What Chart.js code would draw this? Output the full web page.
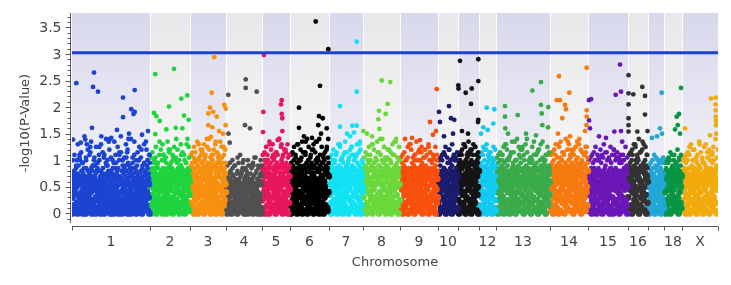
<!DOCTYPE html>
<html>
<head>
<meta charset="utf-8">
<script src="https://cdn.jsdelivr.net/npm/chart.js@4.4.1/dist/chart.umd.min.js"></script>
<style>
  body { margin: 0; background: #fff; }
  #wrap { width: 731px; height: 285px; }
</style>
</head>
<body>
<div id="wrap"><canvas id="chart" width="731" height="285"></canvas></div>
<script>
const chromosomes = ['1','2','3','4','5','6','7','8','9','10','11','12','13','14','15','16','17','18','X'];
const tickLabels  = ['1','2','3','4','5','6','7','8','9','10','','12','13','14','15','16','','18','X'];
// SNP count per chromosome (x-axis units)
const chromSizes  = [78,40,36,36,28,39,34,37,38,20,21,17,54,38,40,20,16,18,36];
const chromColors = ['#1c44d2','#1fd43e','#f7900e','#505050','#e8175d','#000000','#11e2f4','#6ad83a',
                     '#f8500c','#1c1c6e','#141414','#12c9f2','#3aab4a','#f77a10','#6b17b8','#333333',
                     '#22a7d8','#0a9545','#f2aa0c'];
// the solid low band of each chromosome (-log10 p)
const denseTop = [0.65,0.7,0.8,0.6,0.8,0.8,0.75,0.75,0.75,0.7,0.85,0.8,0.75,0.8,0.7,0.8,0.6,0.7,0.7];

// bulk of the SNPs, in order along each chromosome; each char is a step of 0.05 in -log10 p
const levels = '0123456789abcdefghijklmnopqrstuvwxyz';
const bulk = [
  '06b3928d1fa4c07e2b5k1d38g60a4c27b0h593d16ac2p84e0b5391dia06g2c58bm14903d7a2e6b0c48j15d3f9r27a0b6c2f40d81h93a5e7b06cn2d48105gb93ai7c2l6d04s81b5903e7ahc26d41b08f5a3k9c17d2g06b4e8a25c3o8e1d6b0j',
  '3a0e72c5h19d4b06ej28c1a5g3e90m6b2d8f40c7a1e5o39bh2d06c4k81e59a3f2b0d7i4c18e6a20g5bq3d9e17c',
  '4b1g73e9c0k5a2f8d06h3c9b1go47ea0d52i8f3c6b1e9g04m7d2a5c8h03fb6e1j94g2a0p7d3c5fb8',
  '2905b63a18c04e7291b583a0c6f4b2917g58a03c6b2e04981a5c3720i6b91a48d03c57b20e',
  '5c1g82a0e6k93b7f04dh2a6c1m9e38g0b5d7i24c9a1fq6e03b8d52g1hc70a4e9',
  '3d0b8g51e7a29c4h06f1b8d3k2g70c5ae19n4b6d0g38c2i5a71f9e04bd6r2c8a5gh037db1e4j90c6a3g7f21l8e',
  '2b7e04c9f1a5dh38b0e61c9f4k2a7d05gb3e8c1i6a0d9f52bm4e17c3h80ad6b2fq59c03e8a',
  '6c1f93a0e4b8dg27c5h10a9e36fb4k2d7c0i85e1b3fa6p92d0c4g17e58a3j0b6d2f94c1s7a3e0hb5',
  '1e5b90c3f7a2dg48e06b9c1h5f3a7d0k8b26e4c91fa3i7d05eb8c2g49a6f0d3n1e7b5c82ha0f94d6',
  '4b0e8c2a6g1d9h53e0b7c2f4a8j16d0e93b5k7c1a8e2',
  '5g0c9a3h1e7b4i82d0f6c1h9ma5g3e0b8d2j6f4c9h1e7a0g',
  '3e9a0g6c1f8b4h2d07e5a1gk9c3f60d8b2e5a1',
  '2d8a0f5c1e7b3h96e04ca1fk2d8b5g0e39c7a1i4d6b0f28e5c3a9go1b7d4e0c6f29a5h1b8d3e70cj4a6f1b9e2mc5d08g3a7e1b4f9c2i6d0a8e5b3f7c',
  '4f1c9g0a6e3b8h2d5g07c1e9ka4f6b0g3d8i2c5e7a1go9b4f0d6h2c8e3a5g1b7j0f9d42e6c1n8a3g',
  '1c7e3a9f05b2dh6e84c0a5f1k93b7e2d0g6c4a8i1e5b3f7d09c2hb6e0a4m9d1f5c3e8b0g7a2j6d4e1c9b5f3h0a',
  '6d1g9b3e0h8c2f5a7k4g1e9d0h3c6b2g8i5a1f7d0e4c',
  '3a07c52e91b4f6c08h2a5k1c79b3g0a6e4b2',
  '2c8e05a3f91d6b0g4e7c9h2a5e1b3i6d0f8c4a2e',
  '5a1e9c3g07b2d6h4e0a8c1f5k9b3e27d0g6a4i1c8e3b5f0d2j9a6c1h4e7b0d5g3c8m2a6e1f4b9d0o'
];

// the cloud just above the band, same encoding
const fringe = [
  'efgehkfimegjfhelqgefnhgikefjhgpegfhlefikgesgfhjemfghketgifhegnjfhgelfrhgiekfgohejfgihfm',
  'fghfjglfiherfgkhmfgjhfoigfhklgfsjhgfimhgfkgjfhpg',
  'hijhlhnjhiqkhmjhiklhsjhoihjkmhirjhlkhipjhmhj',
  'defdgfheidfgjdefhkdegfidfhdelfgdhefi',
  'hihkjhmhiqjhlhkihnjhsihkjmhiojhlhi',
  'hjhikhmhjqhiklhnihrjhkihmjhoihkjlhsihjhmkhiphj',
  'ghigkhjgmhgiqghkjgnhigjlghpigkhgmjgirhgj',
  'ghighkjgmhiqgjhkgnigshkgjhlgiohgkjgmhrigjhgk',
  'ghjgihkglhgqhjgimhgkhognjhglihgpkhgjmhgikg',
  'fgifkghmfgjfohgilfghkf',
  'ijkimjiqjkilnjiokjmijpikjl',
  'hijhmhkiohjlhnihjkhi',
  'ghjgkhimgjhqgiklgnhjgrhkgimhjgphkgisghjlgkhmigjhogkihrgjkhmgih',
  'hijhkhmihqjhlikhnhjihrkhmijhohikjlhsihkjhmihpj',
  'fgfhgjfkgfmhfgjflghfnfgkhjfgofhlgfjkfgmhfgif',
  'hijhkmhiqhjlkhnihrjhkimh',
  'defgdhfeidgkefhdjf',
  'fghfjgkfhifmgjfhkgif',
  'fghfjgkfmhfiogfhkjfgqhfljfgihnfgkhfjpgfhig'
];

// sparser points higher up, same encoding
const haze = [
  'kmiqlnjtkomrilpjkqnmsiolkrjpmnklqoisjmknpliqrkm',
  'lnkpjmoqklrnjmplokqnmjsl',
  'mnpkrlonqmpslkoqnmrlpo',
  'ijkilmjhkijlik',
  'mnpkroqlnmsplonqm',
  'mnplqkornmsploqnrkmplnos',
  'lmoknqplmrnkopmlqnok',
  'lnmpkqolrnmspklonqmrlp',
  'lmnkpqolmrnkplomqnklpm',
  'klmnplokqmln',
  'mnoqpmrnoqpmn',
  'mnpoqmnlpo',
  'lmnkpqolmrnksplomqnklprmnoqlkmpn',
  'mnoqlprnmsoqlnmprqonmpl',
  'klmnpklomqnklpmoknlmrkpl',
  'mnoqpmsnoqpm',
  'ijkmlijkl',
  'jklnmkjolm',
  'klmnpqkolmrnkpqlomnksl'
];

// stronger signals: [position within chromosome, -log10 p]
const peaks = [
  [[4.3,2.45],[22,2.65],[21,2.38],[26,2.29],[62.7,2.32],[51,2.18],[59.3,1.96],[62.7,1.91],[61.5,1.87],[51,1.81],[20,1.61],[45,1.57],[1,1.39],[8.7,1.33],[13.3,1.39],[29.3,1.45],[39.3,1.42],[57,1.5],[70,1.48],[76,1.55]],
  [[5.3,2.62],[24,2.72],[31.3,2.16],[37.3,2.22],[19,2.01],[4,1.89],[34,1.84],[6.3,1.83],[9.7,1.74],[38.7,1.76],[16.3,1.58],[25.7,1.61],[32.3,1.6],[5.3,1.49]],
  [[24.3,2.94],[21.7,2.27],[20,1.99],[34.3,2.04],[35.7,1.97],[18.3,1.88],[23.3,1.91],[26.7,1.82],[18.3,1.66],[22.3,1.62],[35.7,1.66],[21,1.44],[29,1.55],[33,1.5]],
  [[19.7,2.52],[19.7,2.36],[30.7,2.29],[2.3,2.23],[19,1.66],[24,1.6],[3.7,1.33],[2.5,1.5]],
  [[2,2.98],[19.7,2.13],[19,2.05],[19.7,1.87],[20.3,1.79],[1.3,1.91],[1,1.53],[20.3,1.55],[15.7,1.38]],
  [[25.7,3.61],[38.3,3.09],[30,2.4],[9,1.99],[9,1.61],[29,1.83],[32.7,1.79],[28.3,1.66],[36.7,1.6],[31,1.5],[14,1.45],[22,1.42]],
  [[27.7,3.23],[27.7,2.29],[11,2.02],[11,1.63],[23.3,1.65],[27.7,1.65],[18,1.5],[25,1.52],[21,1.45]],
  [[18.7,2.5],[27.3,2.47],[24.7,2.06],[16,1.93],[22.7,1.87],[15.3,1.77],[16.3,1.59],[0.3,1.55],[4,1.5],[9,1.45]],
  [[36.7,2.34],[30,1.72],[36,1.55],[5,1.4],[12,1.42],[20,1.38],[33,1.48]],
  [[1,1.91],[11,2.02],[2,1.72],[13,1.79],[16.3,1.76],[15,1.5],[6,1.45]],
  [[2,2.87],[20.3,2.9],[0.3,2.41],[0.5,2.35],[13.7,2.35],[20.3,2.49],[7.7,2.27],[13,2.06],[20.3,1.76],[20,1.72],[4,1.55],[10,1.5]],
  [[7.7,1.99],[15.3,1.96],[14.3,1.69],[4.3,1.62],[8.7,1.57],[2,1.5]],
  [[45,2.47],[36.3,2.31],[9,2.02],[21.7,1.85],[9,1.82],[52.3,2.0],[45,2.04],[45.7,1.88],[46.3,1.66],[9.3,1.6],[12,1.5],[30,1.5],[40,1.47],[52,1.62]],
  [[9,2.58],[36.7,2.74],[19.3,2.27],[6.7,2.13],[10,2.13],[15,2.04],[16,1.96],[12.3,1.79],[36.7,1.94],[36.7,1.82],[36.5,1.66],[35,1.55],[8,1.5],[20,1.45]],
  [[32,2.8],[1,2.13],[3,2.15],[27.7,2.23],[33,2.29],[26.3,1.54],[33,1.55],[11,1.45],[18,1.42],[2,1.6],[1,1.75]],
  [[0.5,2.6],[14.3,2.38],[0.5,2.26],[5.3,2.24],[17,2.21],[0.5,2.05],[17,1.86],[0.5,1.79],[19.5,1.55],[0.5,1.54],[9.3,1.54],[0.5,1.66]],
  [[13.7,2.27],[12,1.6],[14,1.5],[4,1.42],[9,1.45]],
  [[17,2.36],[15,1.87],[12.7,1.82],[13.7,1.66],[11,1.58],[16,1.5]],
  [[29,2.16],[33.7,2.18],[33.7,1.94],[33.7,1.82],[34,1.66],[34.3,1.5],[3,1.6],[28,1.47],[33.5,2.05],[34,1.74]]
];

const yTicks = [0, 0.5, 1, 1.5, 2, 2.5, 3, 3.5];
const threshold = 3.02;

const starts = [];
chromSizes.reduce((acc, s) => { starts.push(acc); return acc + s; }, 0);
const total = chromSizes.reduce((a, b) => a + b, 0);

const datasets = [{
  type: 'line',
  label: 'threshold',
  data: [{ x: 0, y: threshold }, { x: total, y: threshold }],
  borderColor: '#1e40cc',
  borderWidth: 3,
  pointRadius: 0,
}];

// evenly spread a coded string over one chromosome
function spread(str, i, out) {
  for (let k = 0; k < str.length; k++) {
    out.push({ x: starts[i] + (k + 0.5) * chromSizes[i] / str.length, y: levels.indexOf(str[k]) / 20 });
  }
}

chromosomes.forEach((c, i) => {
  const pts = [];
  spread(bulk[i], i, pts);
  spread(fringe[i], i, pts);
  spread(haze[i], i, pts);
  peaks[i].forEach(([pos, v]) => pts.push({ x: starts[i] + pos, y: v }));
  datasets.push({
    type: 'scatter',
    label: 'chr' + c,
    data: pts,
    backgroundColor: chromColors[i],
    borderWidth: 0,
    pointRadius: ctx => (ctx.raw && ctx.raw.y <= denseTop[i] ? 3.4 : 2.4),
  });
});

const font = '"DejaVu Sans", Verdana, sans-serif';

const bandsPlugin = {
  id: 'bands',
  beforeDatasetsDraw(chart) {
    const { ctx, chartArea: a, scales: { x } } = chart;
    ctx.save();
    chromSizes.forEach((s, i) => {
      const x0 = x.getPixelForValue(starts[i]);
      const x1 = x.getPixelForValue(starts[i] + s);
      const g = ctx.createLinearGradient(0, a.top, 0, a.bottom);
      if (i % 2 === 0) { g.addColorStop(0, '#d8d8ec'); g.addColorStop(1, '#f8f8fc'); }
      else { g.addColorStop(0, '#e8e8ea'); g.addColorStop(1, '#fbfbfb'); }
      ctx.fillStyle = g;
      ctx.fillRect(x0, a.top, x1 - x0, a.bottom - a.top);
    });
    ctx.strokeStyle = 'rgba(255,255,255,0.9)';
    ctx.lineWidth = 1;
    starts.slice(1).forEach(st => {
      const px = Math.round(x.getPixelForValue(st)) + 0.5;
      ctx.beginPath(); ctx.moveTo(px, a.top); ctx.lineTo(px, a.bottom); ctx.stroke();
    });
    ctx.restore();
  },
};

const axesPlugin = {
  id: 'axes',
  afterDraw(chart) {
    const { ctx, chartArea: a, scales: { x, y } } = chart;
    ctx.save();
    ctx.strokeStyle = '#555';
    ctx.fillStyle = '#444';
    ctx.lineWidth = 1;

    // y axis
    const ax = a.left - 1.5;
    ctx.beginPath(); ctx.moveTo(ax, a.top); ctx.lineTo(ax, a.bottom); ctx.stroke();
    for (let v = -1; v <= 37; v++) {
      const py = Math.round(y.getPixelForValue(v / 10)) + 0.5;
      const len = v % 5 === 0 ? 5 : 3;
      ctx.beginPath(); ctx.moveTo(ax - len, py); ctx.lineTo(ax, py); ctx.stroke();
    }
    ctx.font = '14px ' + font;
    ctx.textAlign = 'right';
    ctx.textBaseline = 'middle';
    yTicks.forEach(v => ctx.fillText(String(v), ax - 9, y.getPixelForValue(v) + 1));

    ctx.save();
    ctx.translate(26, (a.top + a.bottom) / 2 + 5);
    ctx.rotate(-Math.PI / 2);
    ctx.textAlign = 'center';
    ctx.font = '13px ' + font;
    ctx.fillText('-log10(P-Value)', 0, 0);
    ctx.restore();

    // x axis
    const ay = a.bottom + 3.5;
    ctx.beginPath(); ctx.moveTo(a.left, ay); ctx.lineTo(a.right, ay); ctx.stroke();
    starts.concat([total]).forEach(st => {
      const px = Math.round(x.getPixelForValue(st)) + 0.5;
      ctx.beginPath(); ctx.moveTo(px, ay); ctx.lineTo(px, ay + 4); ctx.stroke();
    });
    ctx.textAlign = 'center';
    ctx.font = '14px ' + font;
    tickLabels.forEach((t, i) => {
      if (!t) return;
      ctx.fillText(t, x.getPixelForValue(starts[i] + chromSizes[i] / 2), 242);
    });
    ctx.font = '13px ' + font;
    ctx.fillText('Chromosome', (a.left + a.right) / 2, 263);
    ctx.restore();
  },
};

new Chart(document.getElementById('chart'), {
  type: 'scatter',
  data: { datasets },
  options: {
    responsive: false,
    animation: false,
    events: [],
    layout: { padding: { left: 72, right: 13, top: 13, bottom: 62 } },
    plugins: { legend: { display: false }, tooltip: { enabled: false } },
    scales: {
      x: { type: 'linear', display: false, min: 0, max: total },
      y: { type: 'linear', display: false, min: -0.18, max: 3.77 },
    },
  },
  plugins: [bandsPlugin, axesPlugin],
});
</script>
</body>
</html>
